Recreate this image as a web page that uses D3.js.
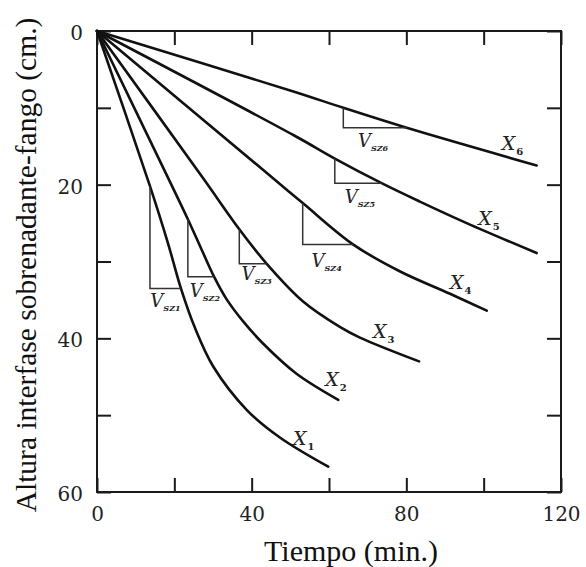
<!DOCTYPE html>
<html>
<head>
<meta charset="utf-8">
<script src="https://cdn.jsdelivr.net/npm/d3@7"></script>
<style>
  html, body { margin: 0; padding: 0; background: #fff; }
  svg { display: block; }
</style>
</head>
<body>
<svg id="chart" width="586" height="567"></svg>
<script>
// Batch settling curves: interface height (cm) against time (min)
const seriesSubs = ["1", "2", "3", "4", "5", "6"];
const curveX1 = [[0, 0], [13.7, 20.2], [18.4, 27.7], [21.7, 33.5], [25.3, 38.6], [30.1, 43.7], [38.7, 49.3], [47.3, 52.9], [59.8, 56.7]];
const curveX2 = [[0, 0], [17.6, 18.3], [23.5, 24.5], [27.1, 28.5], [30.3, 32.0], [33.5, 34.9], [37.8, 37.8], [43.0, 40.7], [51.6, 44.6], [62.4, 48.0]];
const curveX3 = [[0, 0], [27.5, 19.2], [36.8, 25.8], [43.9, 30.3], [53.3, 35.2], [62.8, 38.5], [68.0, 39.9], [83.3, 43.0]];
const curveX4 = [[0, 0], [43.0, 18.1], [53.2, 22.4], [66.3, 27.8], [78.4, 31.3], [91.3, 34.2], [100.8, 36.4]];
const curveX5 = [[0, 0], [51.0, 13.6], [61.5, 16.6], [73.6, 19.8], [83.5, 22.2], [95.6, 25.0], [113.7, 28.9]];
const curveX6 = [[0, 0], [51.0, 7.9], [63.7, 10.0], [80.1, 12.6], [113.7, 17.5]];
const curves = [curveX1, curveX2, curveX3, curveX4, curveX5, curveX6];

const xTicks = [0, 20, 40, 60, 80, 100, 120];
const xTickLabels = [0, 40, 80, 120];
const yTicks = [0, 10, 20, 30, 40, 50, 60];
const yTickLabels = [0, 20, 40, 60];

// Zone-settling velocity construction on each curve: start / end time of the linear stretch
const tangentSeries = [0, 1, 2, 3, 4, 5];
const tangentStart = [13.7, 23.5, 36.8, 53.2, 61.5, 63.7];
const tangentEnd = [21.7, 30.3, 43.9, 66.3, 73.6, 80.1];
const tangentSubs = ["SZ1", "SZ2", "SZ3", "SZ4", "SZ5", "SZ6"];

// Label anchors in data units (time, height)
const curveLabelAt = [[50.7, 53.9], [59.0, 46.2], [71.4, 39.9], [91.3, 33.6], [98.6, 25.3], [104.7, 15.5]];
const tangentLabelAt = [[13.8, 35.9], [24.0, 34.6], [37.4, 32.4], [55.5, 30.7], [64.1, 22.4], [67.5, 15.1]];

const svg = d3.select("#chart");
const x = d3.scaleLinear().domain([0, 120]).range([97, 561]);
const y = d3.scaleLinear().domain([0, 60]).range([31, 492]);

const ink = "#1a1a1a";
const tickLen = 14;

// Axes with inward ticks on all four sides
const gLeft = svg.append("g").attr("transform", `translate(${x(0)},0)`)
  .call(d3.axisLeft(y).tickValues(yTicks).tickSize(-tickLen).tickPadding(14)
    .tickFormat(d => yTickLabels.includes(d) ? d : ""));
const gBottom = svg.append("g").attr("transform", `translate(0,${y(60)})`)
  .call(d3.axisBottom(x).tickValues(xTicks).tickSize(-tickLen).tickPadding(15)
    .tickFormat(d => xTickLabels.includes(d) ? d : ""));
const gTop = svg.append("g").attr("transform", `translate(0,${y(0)})`)
  .call(d3.axisTop(x).tickValues(xTicks).tickSize(-tickLen).tickFormat(""));
const gRight = svg.append("g").attr("transform", `translate(${x(120)},0)`)
  .call(d3.axisRight(y).tickValues(yTicks).tickSize(-tickLen).tickFormat(""));

[gLeft, gBottom, gTop, gRight].forEach(g => {
  g.select(".domain").remove();
  g.selectAll(".tick line").attr("stroke", ink).attr("stroke-width", 2);
  g.selectAll(".tick text")
    .attr("fill", "#222")
    .style("font-family", "'DejaVu Serif', serif")
    .style("font-size", "20px");
});
gLeft.selectAll(".tick text").attr("dy", "0.42em");

// Frame
svg.append("rect")
  .attr("x", x(0)).attr("y", y(0))
  .attr("width", x(120) - x(0)).attr("height", y(60) - y(0))
  .attr("fill", "none").attr("stroke", ink).attr("stroke-width", 2);

// Settling curves
const line = d3.line().x(d => x(d[0])).y(d => y(d[1])).curve(d3.curveCatmullRom.alpha(0.5));
svg.append("g").selectAll("path").data(curves).join("path")
  .attr("d", line)
  .attr("fill", "none")
  .attr("stroke", "#111")
  .attr("stroke-width", 2.6)
  .attr("stroke-linecap", "round");

// Tangent triangles
const heightAt = (s, t) => curves[s].find(p => p[0] === t)[1];
svg.append("g").selectAll("path").data(tangentSeries).join("path")
  .attr("d", (s, i) => {
    const t0 = tangentStart[i], t1 = tangentEnd[i];
    const h0 = heightAt(s, t0), h1 = heightAt(s, t1);
    return `M${x(t0)},${y(h0)}V${y(h1)}H${x(t1)}`;
  })
  .attr("fill", "none")
  .attr("stroke", "#333")
  .attr("stroke-width", 1.5);

// Labels X_n
const labelFont = "'DejaVu Serif', serif";
const cl = svg.append("g").selectAll("text").data(seriesSubs).join("text")
  .attr("x", (d, i) => x(curveLabelAt[i][0]))
  .attr("y", (d, i) => y(curveLabelAt[i][1]))
  .attr("fill", "#222")
  .style("font-family", labelFont);
cl.append("tspan").text("X").style("font-style", "italic").style("font-size", "19px");
cl.append("tspan").text(d => d).attr("dy", 5).attr("dx", 1)
  .style("font-size", "10px").style("font-weight", "bold");

// Labels V_SZn
const tl = svg.append("g").selectAll("text").data(tangentSubs).join("text")
  .attr("x", (d, i) => x(tangentLabelAt[i][0]))
  .attr("y", (d, i) => y(tangentLabelAt[i][1]))
  .attr("fill", "#222")
  .style("font-family", labelFont);
tl.append("tspan").text("V").style("font-style", "italic").style("font-size", "18px");
tl.append("tspan").text(d => d).attr("dy", 4)
  .style("font-style", "italic").style("font-size", "8px").style("font-weight", "bold");

// Axis titles
svg.append("text")
  .attr("x", 351).attr("y", 561)
  .attr("text-anchor", "middle")
  .attr("fill", "#111")
  .style("font-family", "'Liberation Serif', 'Times New Roman', serif")
  .style("font-size", "30px")
  .text("Tiempo (min.)");

svg.append("text")
  .attr("transform", "translate(36,265) rotate(-90)")
  .attr("text-anchor", "middle")
  .attr("fill", "#111")
  .style("font-family", "'Liberation Serif', 'Times New Roman', serif")
  .style("font-size", "29.5px")
  .text("Altura interfase sobrenadante-fango (cm.)");
</script>
</body>
</html>
